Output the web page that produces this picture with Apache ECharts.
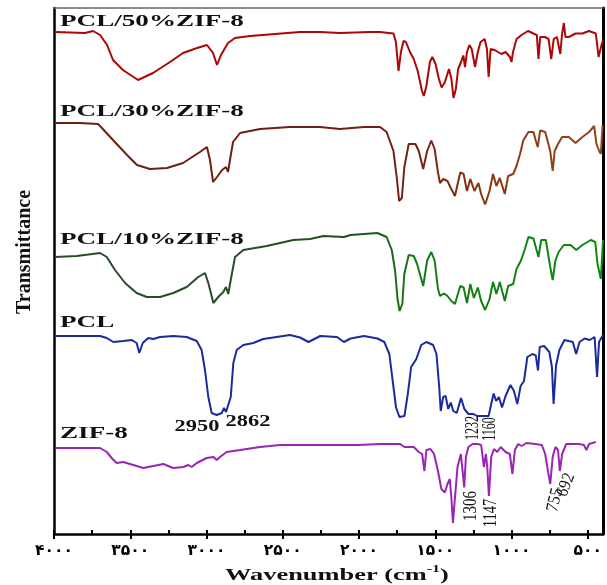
<!DOCTYPE html>
<html>
<head>
<meta charset="utf-8">
<script src="https://cdn.jsdelivr.net/npm/echarts@6/dist/echarts.min.js"></script>
<style>
html,body{margin:0;padding:0;background:#fff;}
#chart{width:607px;height:585px;}
</style>
</head>
<body>
<div id="chart"></div>
<script>
// Wavenumber (cm-1) vs transmittance (arbitrary, offset stacked)
const tickValues = [4000, 3500, 3000, 2500, 2000, 1500, 1000, 500];
const tickLabels = ['۴۰۰۰', '۳۵۰۰', '۳۰۰۰', '۲۵۰۰', '۲۰۰۰', '۱۵۰۰', '۱۰۰۰', '۵۰۰'];
const minorTickValues = [4000, 3750, 3500, 3250, 3000, 2750, 2500, 2250, 2000, 1750, 1500, 1250, 1000, 750, 500];

const seriesNames = ['PCL/50%ZIF-8', 'PCL/30%ZIF-8', 'PCL/10%ZIF-8', 'PCL', 'ZIF-8'];

const PCL50 = [[3993,502],[3895,501.5],[3797,501],[3744,503],[3731,501.5],[3698,499],[3652,489],[3613,474],[3548,464],[3449,454],[3351,461],[3239,472],[3154,481],[3062,486],[2997,489],[2957,481],[2931,469],[2905,479],[2859,491],[2813,496],[2715,498],[2551,500],[2387,502],[2256,502],[2243,503],[2125,501],[1928,502],[1862,502],[1774,500.5],[1758,492],[1741,463],[1725,482],[1708,493],[1692,492],[1666,482],[1641,475],[1615,463],[1587,443],[1575,438],[1558,448],[1535,472],[1519,477],[1498,470],[1476,455],[1458,446.5],[1438,451.5],[1410,465],[1394,455],[1380,436],[1365,445],[1350,465],[1331,472],[1316,478.5],[1305,467],[1292,482],[1276,489],[1261,485],[1239,467],[1221,482],[1203,492],[1176,495],[1161,485],[1150,457],[1137,485],[1110,484],[1089,482],[1066,480],[1039,482],[1010,477],[1000,472],[990,482],[967,495],[934,499],[892,503],[856,500.5],[834,499],[823,475],[812,497],[781,497],[757,495],[739,475],[723,495],[702,497],[680,480],[669,499],[657,511],[646,497],[624,497],[580,500.5],[535,500.5],[492,503],[447,500.5],[429,477],[413,487],[400,494]];

const PCL30 = [[3993,411],[3830,411],[3712,410],[3698,408],[3613,394],[3521,379],[3456,369],[3371,365],[3259,366],[3154,371],[3043,382],[2997,387],[2977,374],[2957,352],[2931,357],[2898,364],[2872,367],[2859,362],[2846,374],[2826,392],[2780,401],[2649,405],[2453,407],[2256,407],[2125,405],[1967,407],[1862,407],[1819,402],[1774,383],[1752,356],[1737,333],[1719,336],[1703,366.5],[1674,390],[1630,390],[1608,383],[1579,365],[1553,383],[1526,393.5],[1504,385],[1482,361.5],[1469,351],[1447,355],[1420,353],[1398,346],[1371,338],[1336,361.5],[1314,360],[1292,343],[1270,355],[1243,343],[1217,351],[1199,340],[1173,329.5],[1144,343],[1121,360],[1099,348],[1077,356],[1044,340],[1022,358],[989,360],[967,368],[944,380],[923,393.5],[889,402],[856,402],[841,393.5],[828,387],[812,403.6],[779,402],[746,383],[730,363],[717,383],[695,390],[668,397],[624,397],[580,391],[535,397],[491,402],[458,408],[443,390],[425,383],[414,380],[403,409]];

const PCL10 = [[3993,277],[3851,278],[3698,281],[3654,277],[3600,264],[3534,251],[3458,241],[3392,237],[3305,237],[3218,241],[3130,247],[3054,257],[3010,261],[2988,251],[2955,231],[2923,237],[2890,242],[2872,247],[2857,240],[2841,254],[2813,277],[2759,284],[2605,288],[2431,294],[2321,295],[2232,298],[2099,297],[2055,299],[1879,301],[1819,297],[1785,284],[1763,263],[1748,236],[1734,223],[1716,230],[1703,260],[1674,279],[1641,278],[1619,270],[1579,248],[1553,273.5],[1526,282],[1504,273.5],[1482,245],[1469,238],[1442,240.5],[1420,238],[1394,233],[1371,230],[1336,248],[1314,246.5],[1292,231],[1270,250],[1247,236],[1221,246.5],[1199,233],[1173,224],[1144,235],[1121,252],[1099,240],[1077,252],[1044,233],[1022,248],[989,250],[967,265],[938,273.5],[912,285],[889,297],[856,295.5],[841,287],[823,277],[805,294],[775,294],[746,267],[730,254],[712,273.5],[691,282],[657,289],[613,289],[575,284],[535,289],[480,294],[451,292],[436,270],[414,255],[400,294]];

const PCL = [[3993,198],[3698,198],[3654,196],[3611,192],[3546,193],[3490,194],[3458,191],[3441,181],[3418,191],[3382,196],[3349,195],[3305,197],[3218,198],[3130,197],[3064,193],[3032,184],[3010,164],[2988,137],[2966,121],[2933,119],[2900,121],[2885,126],[2872,122],[2861,120],[2841,137],[2824,171],[2802,184],[2759,189],[2693,191],[2628,195],[2540,197],[2453,199],[2387,196.5],[2331,192],[2254,198],[2144,197],[2099,192],[2055,195.5],[1967,198],[1879,195.5],[1834,192],[1801,180],[1779,153],[1757,126.5],[1735,117],[1702,118],[1680,140],[1658,167],[1624,175],[1592,189],[1558,192],[1514,189],[1492,180],[1474,147],[1464,123],[1448,137],[1432,138],[1415,125],[1398,131.5],[1382,123],[1359,121],[1331,136],[1309,125],[1282,120],[1249,120],[1227,118],[1183,118],[1150,118],[1133,130],[1117,140.5],[1101,133],[1083,137],[1062,126.5],[1039,138],[1007,149],[984,143],[962,130],[940,148],[918,153],[896,177],[863,180],[841,178.6],[826,163.5],[815,187],[786,188],[752,182],[735,167],[724,130],[708,168.5],[686,184],[653,194],[598,192],[576,180],[554,192],[521,195.5],[487,194],[455,197],[439,157],[426,192],[400,199]];

const ZIF8 = [[3993,86],[3698,86],[3654,82],[3622,76],[3589,71],[3546,72],[3480,69],[3414,66],[3349,68],[3283,70],[3218,66],[3152,67],[3119,69],[3097,67],[3064,71],[2999,76],[2955,77],[2933,74],[2912,77],[2868,82],[2780,84],[2649,87],[2518,89],[2387,89],[2232,89],[2011,89],[1862,90],[1730,90],[1702,87],[1641,87],[1608,82],[1586,80],[1571,63],[1558,84],[1531,85],[1508,80],[1482,63],[1460,45],[1437,41.5],[1420,50],[1405,55],[1394,36],[1384,11],[1371,36],[1354,67],[1332,80],[1321,79],[1310,46.5],[1299,77],[1283,87],[1255,90],[1221,90],[1199,89],[1181,67],[1168,80],[1159,67],[1148,38],[1133,77],[1115,85],[1093,82],[1071,87],[1039,82],[1011,80],[994,60],[978,84],[956,90],[934,88],[901,91],[845,90],[801,89],[779,80],[761,63],[746,50],[730,77],[712,87],[695,84],[683,63],[668,80],[641,90],[558,90],[525,89],[509,84],[491,90],[447,92]];

const peakLabels = ['2950', '2862', '1232', '1160', '1306', '1147', '755', '692'];

const chart = echarts.init(document.getElementById('chart'), null, {renderer: 'canvas'});

const serif = '"Liberation Serif", "Times New Roman", serif';

function lineSeries(name, data, color, width) {
  return {
    name: name, type: 'line', data: data, xAxisIndex: 0, yAxisIndex: 0,
    showSymbol: false, symbol: 'none', smooth: false,
    lineStyle: {color: color, width: width || 2},
    emphasis: {disabled: true}
  };
}

const greenGrad = new echarts.graphic.LinearGradient(0, 0, 1, 0, [
  {offset: 0, color: '#2b4a2b'}, {offset: 0.55, color: '#244f24'},
  {offset: 0.66, color: '#177a17'}, {offset: 1, color: '#0d8a0d'}]);
const brownGrad = new echarts.graphic.LinearGradient(0, 0, 1, 0, [
  {offset: 0, color: '#6e1c12'}, {offset: 0.65, color: '#761f12'},
  {offset: 0.78, color: '#8a3612'}, {offset: 1, color: '#94461a'}]);

function label(text, x, y) {
  return {type: 'text', x: x, y: y, scaleX: 1.55, z: 100,
    style: {text: text, font: 'bold 17.5px ' + serif, fill: '#111',
      textAlign: 'left', textVerticalAlign: 'middle', verticalAlign: 'middle'}};
}
function hNum(text, x, y) {
  return {type: 'text', x: x, y: y, scaleX: 1.4, z: 100,
    style: {text: text, font: 'bold 16px ' + serif, fill: '#111',
      textAlign: 'center', textVerticalAlign: 'middle', verticalAlign: 'middle'}};
}
function vNum(text, x, y, size, stretch, rot) {
  return {type: 'text', x: x, y: y, rotation: rot, scaleY: stretch, z: 100,
    style: {text: text, font: size + 'px ' + serif, fill: '#111',
      textAlign: 'center', textVerticalAlign: 'middle', verticalAlign: 'middle'}};
}

const option = {
  animation: false,
  backgroundColor: '#ffffff',
  grid: {left: 54, right: 4, top: 8, bottom: 51, containLabel: false},
  xAxis: [
    {
      type: 'value', min: 400, max: 4000, inverse: true, position: 'bottom',
      axisLine: {show: true, onZero: false, lineStyle: {color: '#000', width: 2.5}},
      axisTick: {show: true, inside: false, length: 5, customValues: tickValues, lineStyle: {color: '#000', width: 2}},
      axisLabel: {show: true, customValues: tickValues, margin: 9, color: '#000',
        fontFamily: '"DejaVu Sans", sans-serif', fontWeight: 'bold', fontSize: 15.5,
        formatter: function (v) { const i = tickValues.indexOf(v); return i >= 0 ? tickLabels[i] : ''; }},
      splitLine: {show: false}
    },
    {
      type: 'value', min: 400, max: 4000, inverse: true, position: 'bottom',
      axisLine: {show: false},
      axisTick: {show: true, inside: true, length: 4, customValues: minorTickValues, lineStyle: {color: '#000', width: 2}},
      axisLabel: {show: false}, splitLine: {show: false}
    },
    {
      type: 'value', min: 400, max: 4000, inverse: true, position: 'top',
      axisLine: {show: true, onZero: false, lineStyle: {color: '#666', width: 1.5}},
      axisTick: {show: false}, axisLabel: {show: false}, splitLine: {show: false}
    }
  ],
  yAxis: [
    {
      type: 'value', min: 0, max: 526, position: 'left',
      axisLine: {show: true, onZero: false, lineStyle: {color: '#000', width: 2.5}},
      axisTick: {show: false}, axisLabel: {show: false}, splitLine: {show: false}
    },
    {
      type: 'value', min: 0, max: 526, position: 'right',
      axisLine: {show: true, onZero: false, lineStyle: {color: '#000', width: 3}},
      axisTick: {show: false}, axisLabel: {show: false}, splitLine: {show: false}
    }
  ],
  series: [
    lineSeries(seriesNames[0], PCL50, '#ad0606', 2),
    lineSeries(seriesNames[1], PCL30, brownGrad, 2),
    lineSeries(seriesNames[2], PCL10, greenGrad, 2),
    lineSeries(seriesNames[3], PCL, '#1b2a9e', 2),
    lineSeries(seriesNames[4], ZIF8, '#9a24b6', 2)
  ],
  graphic: [
    label(seriesNames[0], 60, 21),
    label(seriesNames[1], 60, 111),
    label(seriesNames[2], 60, 239),
    label(seriesNames[3], 60, 322),
    label(seriesNames[4], 60, 433.5),
    hNum(peakLabels[0], 197, 427),
    hNum(peakLabels[1], 248, 422),
    vNum(peakLabels[2], 473, 428, 12, 1.6, Math.PI / 2),
    vNum(peakLabels[3], 490, 429, 12, 1.6, Math.PI / 2),
    vNum(peakLabels[4], 471, 506, 15, 1.3, Math.PI / 2),
    vNum(peakLabels[5], 491, 513, 14.5, 1.35, Math.PI / 2),
    vNum(peakLabels[6], 555, 500, 16, 1.1, 1.33),
    vNum(peakLabels[7], 566, 485, 16, 1.1, 1.2),
    {type: 'text', x: 25, y: 252, rotation: Math.PI / 2, z: 100,
      style: {text: 'Transmittance', font: 'bold 20px ' + serif, fill: '#111',
        textAlign: 'center', textVerticalAlign: 'middle', verticalAlign: 'middle'}},
    {type: 'text', x: 337, y: 574, scaleX: 1.6, z: 100,
      style: {text: '{a|Wavenumber (cm}{s|-1}{a|)}', textAlign: 'center', textVerticalAlign: 'middle', verticalAlign: 'middle',
        rich: {
          a: {font: 'bold 16.5px ' + serif, fill: '#111', color: '#111', lineHeight: 20, verticalAlign: 'bottom'},
          s: {font: 'bold 10px ' + serif, fill: '#111', color: '#111', lineHeight: 20, verticalAlign: 'top', padding: [0, 0, 6, 0]}
        }}}
  ]
};
chart.setOption(option);
</script>
</body>
</html>
